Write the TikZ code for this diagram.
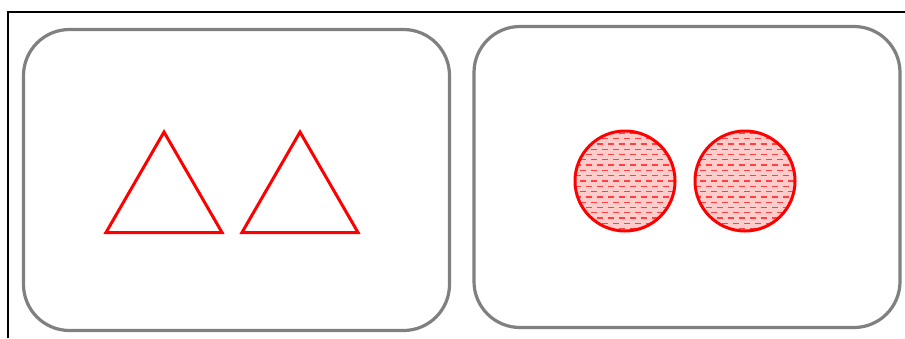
\documentclass[tikz,border=0pt]{standalone}
\usetikzlibrary{shapes.geometric}
\begin{document}
\begin{tikzpicture}[
		x=1pt,y=-1pt,
		panel/.style={
			draw=gray,
			line width=3.2pt,
			rounded corners=46pt,
			minimum width=426pt,
			minimum height=301pt,
			inner sep=0pt
		},
		tri/.style={
			regular polygon,
			regular polygon sides=3,
			draw=red,
			line width=3pt,
			minimum size=134pt,
			inner sep=0pt
		},
		dot/.style={
			circle,
			draw=red,
			line width=3pt,
			fill=red!20,
			minimum size=100pt,
			inner sep=0pt,
			path picture={
				\foreach \k [evaluate=\k as \s using {-56+5.5*mod(abs(\k),2)}] in {-10,...,10}
				\draw[red!75, line width=1.3pt, dash pattern=on 6pt off 5pt]
				([xshift=\s pt,yshift=\k*5.3pt]path picture bounding box.center) -- ++(115,0);
			}
		}
		]
		
		\useasboundingbox (0,0) rectangle (905,338);
		
		% Outer frame
		\coordinate (frameBL) at (8,338);
		\coordinate (frameTL) at (8,12);
		\coordinate (frameTR) at (905,12);
		\draw[line width=1.6pt] (frameBL) -- (frameTL) -- (frameTR);
		
		% Left panel
		\node[panel] (left) at (236.5,180) {};
		\node[tri] (triA) at (164,199) {};
		\node[tri] (triB) at (300,199) {};
		
		% Right panel
		\node[panel] (right) at (687,177) {};
		\node[dot] (dotA) at (625,181) {};
		\node[dot] (dotB) at (745,181) {};
		
	\end{tikzpicture}
\end{document}
